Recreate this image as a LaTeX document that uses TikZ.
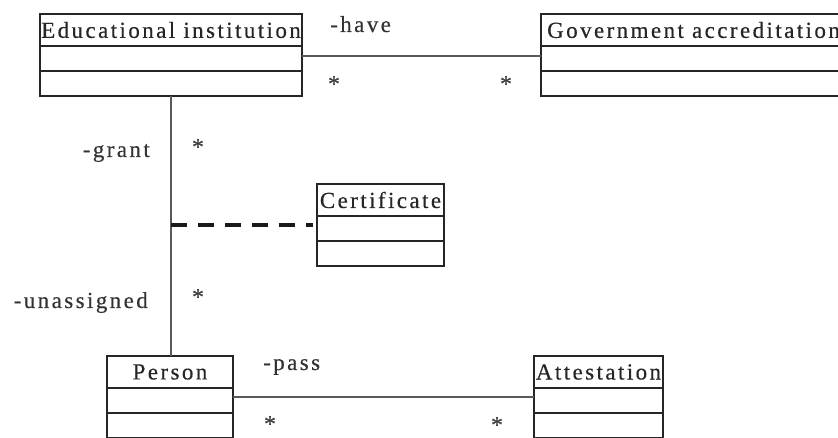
\documentclass[tikz,border=0pt]{standalone}
\usepackage{fontspec}
\setmainfont{Liberation Serif}[LetterSpace=10.5, FakeBold=0.4]
\usetikzlibrary{positioning}

\tikzset{
  classhead/.style={draw=black!85, line width=1.6pt, outer sep=0pt, inner sep=0pt,
    minimum height=32pt, text=black!85, font=\fontsize{23}{25}\selectfont},
  classpart/.style={draw=black!85, line width=1.6pt, outer sep=0pt, inner sep=0pt,
    minimum height=25pt},
  assoc/.style={draw=black!65, line width=1.2pt},
  assocclass/.style={draw=black!90, line width=3.4pt, dash pattern=on 16pt off 11pt, shorten >=4pt},
  role/.style={inner sep=0pt, text=black!80, font=\fontsize{23}{25}\selectfont},
  mult/.style={inner sep=0pt, text=black!75, font=\fontsize{24}{26}\selectfont}
}

% class box: name, left x, top y, width, title
\newcommand{\umlclass}[5]{%
  \node[classhead, minimum width=#4pt, anchor=north west] (#1) at (#2,#3) {#5};
  \node[classpart, minimum width=#4pt, below=0pt of #1] (#1-a) {};
  \node[classpart, minimum width=#4pt, below=0pt of #1-a] (#1-b) {};
}

\begin{document}
\begin{tikzpicture}[x=1pt, y=-1pt]
  \useasboundingbox (0,0) rectangle (838,438);
  \clip (0,0) rectangle (838,438);

  % classes
  \umlclass{edu}{40}{14}{262}{Educational institution}
  \umlclass{gov}{541}{14}{305}{Government accreditation}
  \umlclass{cert}{317}{184}{127}{Certificate}
  \umlclass{person}{107}{356}{126}{Person}
  \umlclass{attest}{534}{356}{129}{Attestation}

  % associations
  \draw[assoc] ([yshift=2.5pt]edu-a.east) -- ([yshift=2.5pt]edu-a.east -| gov-a.west);
  \draw[assoc] (edu-b.south) -- (edu-b.south |- person.north);
  \draw[assocclass] ([yshift=3.5pt]cert-a.west -| edu-b.south) -- ([yshift=3.5pt]cert-a.west);
  \draw[assoc] ([yshift=3.5pt]person-a.east) -- ([yshift=3.5pt]person-a.east -| attest-a.west);

  % roles and multiplicities
  \node[role, anchor=base west] (have) at (330,32) {-have};
  \node[mult] (have-edu) at (334,84) {*};
  \node[mult] (have-gov) at (506,84) {*};
  \node[role, anchor=base east] (grant) at (150,157) {-grant};
  \node[mult] (grant-edu) at (198,147) {*};
  \node[role, anchor=base east] (unassigned) at (148,308) {-unassigned};
  \node[mult] (unassigned-person) at (198,297) {*};
  \node[role, anchor=base west] (pass) at (263,370) {-pass};
  \node[mult] (pass-person) at (270,424) {*};
  \node[mult] (pass-attest) at (497,425) {*};
\end{tikzpicture}
\end{document}
